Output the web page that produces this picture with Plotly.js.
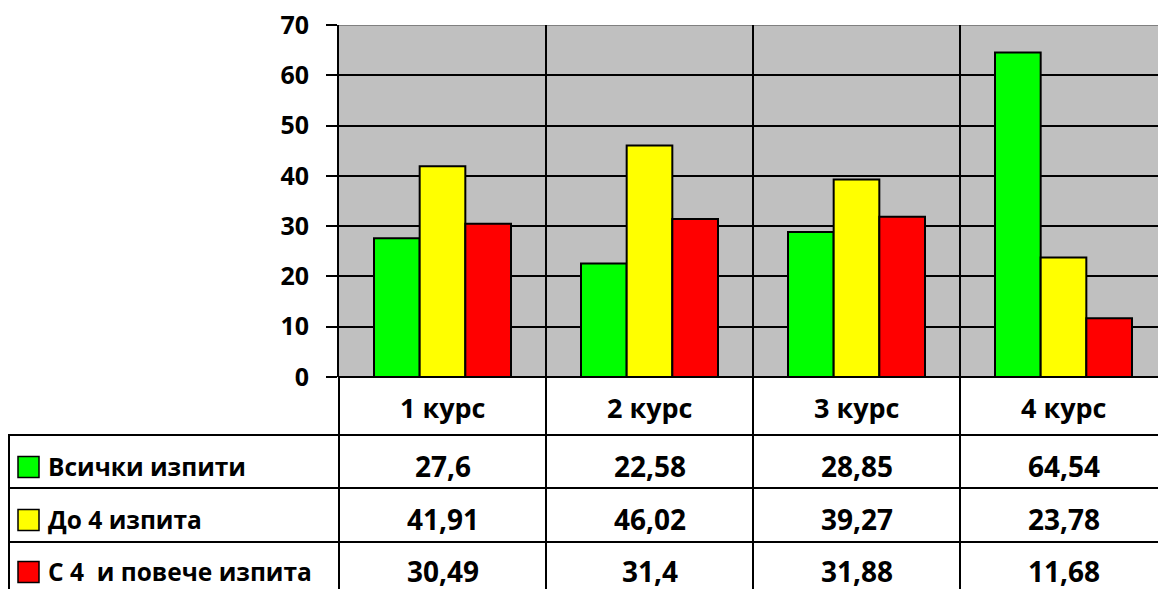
<!DOCTYPE html>
<html>
<head>
<meta charset="utf-8">
<script src="https://cdn.plot.ly/plotly-3.0.1.min.js"></script>
<style>html,body{margin:0;padding:0;background:#fff;}#chart{width:1158px;height:589px;}</style>
</head>
<body>
<div id="chart"></div>
<script>
// ---- data ----
const categories = ['1 курс', '2 курс', '3 курс', '4 курс'];
const seriesNames = ['Всички изпити', 'До 4 изпита', 'С 4\u00a0 и повече изпита'];
const allExams = [27.6, 22.58, 28.85, 64.54];
const upTo4Exams = [41.91, 46.02, 39.27, 23.78];
const over4Exams = [30.49, 31.4, 31.88, 11.68];
const yTickValues = [0, 10, 20, 30, 40, 50, 60, 70];

// ---- style ----
const colors = ['#00ff00', '#ffff00', '#ff0000'];
const FONT = 'Open Sans, Noto Sans, sans-serif';
const W = 1158, H = 589;
const L = 339, T = 25, B = 377; // plot area pixel edges
const PW = W - L, PH = B - T;
const px = x => (x - L) / PW;   // pixel -> paper x
const py = y => (B - y) / PH;   // pixel -> paper y
const catPx = 207;              // category width in pixels
const xEnd = -0.5 + PW / catPx;

const series = [allExams, upTo4Exams, over4Exams];
const traces = series.map((vals, i) => ({
  type: 'bar',
  x: categories,
  y: vals,
  name: seriesNames[i],
  marker: {color: colors[i], line: {color: '#000', width: 2}},
  hoverinfo: 'x+y+name'
}));

const shapes = [];
const annotations = [];
const blk = {color: '#000', width: 2};

// top gray border
shapes.push({type: 'line', xref: 'paper', yref: 'y', x0: 0, x1: 1, y0: 70, y1: 70,
  line: {color: '#808080', width: 2}, layer: 'above'});
// category boundary lines (plot + table)
for (let k = 0; k < categories.length - 1; k++) {
  shapes.push({type: 'line', xref: 'x', yref: 'paper', x0: k + 0.5, x1: k + 0.5,
    y0: 1, y1: py(H + 10), line: blk, layer: 'above'});
}
// left axis line continued into the table
shapes.push({type: 'line', xref: 'paper', yref: 'paper', x0: 0, x1: 0,
  y0: py(B), y1: py(H + 10), line: blk, layer: 'above'});
// table horizontal lines
const rowLines = [435, 488, 542];
rowLines.forEach(y => shapes.push({type: 'line', xref: 'paper', yref: 'paper',
  x0: px(8), x1: 1, y0: py(y), y1: py(y), line: blk, layer: 'above'}));
// table left border
shapes.push({type: 'line', xref: 'paper', yref: 'paper', x0: px(9), x1: px(9),
  y0: py(435), y1: py(H + 10), line: blk, layer: 'above'});

// category header labels
const catY = 407;
categories.forEach(c => annotations.push({
  x: c, xref: 'x', y: py(catY), yref: 'paper', text: c, showarrow: false,
  xanchor: 'center', yanchor: 'middle',
  font: {family: FONT, size: 27, color: '#000', weight: 'bold'}
}));

// table rows
const rowCenters = [466, 519, 571];
const fmt = v => String(v).replace('.', ',');
series.forEach((vals, i) => {
  const yc = rowCenters[i];
  // legend key
  shapes.push({type: 'rect', xref: 'paper', yref: 'paper',
    x0: px(18), x1: px(39), y0: py(yc - 10.5 + 1), y1: py(yc + 10.5 + 1),
    fillcolor: colors[i], line: {color: '#000', width: 1.5}, layer: 'above'});
  annotations.push({
    x: px(46), xref: 'paper', y: py(yc), yref: 'paper', text: seriesNames[i],
    showarrow: false, xanchor: 'left', yanchor: 'middle',
    font: {family: FONT, size: 24.5, color: '#000', weight: 'bold'}
  });
  vals.forEach((v, j) => annotations.push({
    x: categories[j], xref: 'x', y: py(yc), yref: 'paper', text: fmt(v),
    showarrow: false, xanchor: 'center', yanchor: 'middle',
    font: {family: FONT, size: 28, color: '#000', weight: 'bold'}
  }));
});

const layout = {
  width: W, height: H,
  margin: {l: L, r: 0, t: T, b: H - B, pad: 0},
  paper_bgcolor: '#ffffff',
  plot_bgcolor: '#c0c0c0',
  showlegend: false,
  barmode: 'group',
  bargap: 70 / 207,
  bargroupgap: 0,
  xaxis: {
    type: 'category', range: [-0.5, xEnd], showticklabels: false,
    showgrid: false, zeroline: false, showline: false, ticks: '', fixedrange: true
  },
  yaxis: {
    range: [0, 70], tickvals: yTickValues, ticktext: yTickValues.map(String),
    showgrid: true, gridcolor: '#000', gridwidth: 2,
    zeroline: true, zerolinecolor: '#000', zerolinewidth: 2,
    showline: true, linecolor: '#000', linewidth: 2,
    ticks: 'outside', ticklen: 11, tickwidth: 2, tickcolor: '#000',
    ticklabelstandoff: 12,
    tickfont: {family: FONT, size: 25, color: '#000', weight: 'bold'},
    fixedrange: true
  },
  shapes: shapes,
  annotations: annotations
};

Plotly.newPlot('chart', traces, layout, {displayModeBar: false, staticPlot: true});
</script>
</body>
</html>
